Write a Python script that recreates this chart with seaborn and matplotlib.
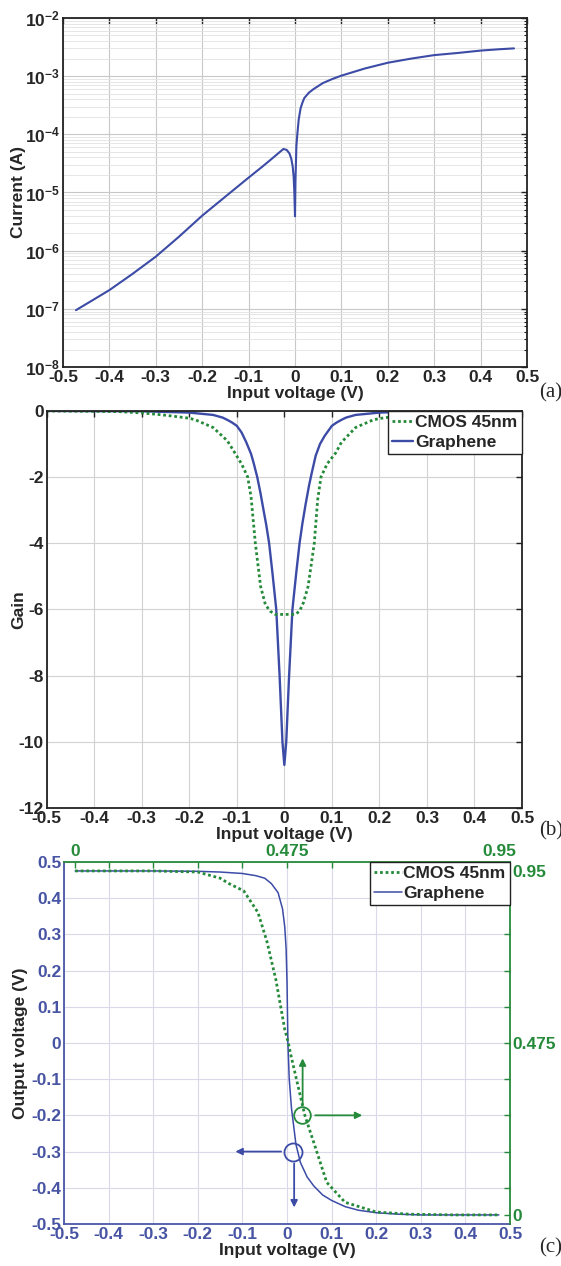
import numpy as np
import matplotlib
matplotlib.use('Agg')
import matplotlib.pyplot as plt
from matplotlib.ticker import LogLocator, FixedLocator, NullFormatter
import seaborn as sns
import pandas as pd

# (a) drain current vs input voltage (log scale)
vin_a = [-0.472, -0.44, -0.4, -0.35, -0.3, -0.25, -0.2, -0.15, -0.1, -0.07, -0.05, -0.035,
         -0.025, -0.018, -0.012, -0.008, -0.005, -0.003, -0.0015, 0.0, 0.001, 0.003, 0.005,
         0.008, 0.012, 0.016, 0.02, 0.03, 0.04, 0.06, 0.08, 0.1, 0.15, 0.2, 0.25, 0.3, 0.35,
         0.4, 0.44, 0.472]
current_a = [9.5e-8, 1.35e-7, 2.1e-7, 4.0e-7, 7.9e-7, 1.74e-6, 4.0e-6, 8.5e-6, 1.8e-5, 2.8e-5,
             3.8e-5, 4.8e-5, 5.6e-5, 5.4e-5, 4.7e-5, 3.8e-5, 2.8e-5, 1.9e-5, 1.05e-5, 3.9e-6,
             1.6e-5, 6.3e-5, 1.0e-4, 1.8e-4, 2.8e-4, 3.5e-4, 4.2e-4, 5.2e-4, 6.0e-4, 7.6e-4,
             8.9e-4, 1.02e-3, 1.35e-3, 1.7e-3, 2.0e-3, 2.3e-3, 2.5e-3, 2.75e-3, 2.9e-3, 3.0e-3]

# (b) gain
vin_b_cmos = [-0.5, -0.35, -0.3, -0.27, -0.25, -0.2, -0.187, -0.15, -0.12, -0.104, -0.09,
              -0.077, -0.07, -0.061, -0.05, -0.04, -0.03, -0.019, -0.01, 0.0, 0.01, 0.023,
              0.032, 0.04, 0.05, 0.063, 0.07, 0.077, 0.09, 0.108, 0.12, 0.15, 0.187, 0.2,
              0.255, 0.3, 0.35, 0.5]
gain_cmos = [0.0, -0.02, -0.06, -0.1, -0.13, -0.22, -0.27, -0.5, -0.9, -1.27, -1.6,
             -2.0, -2.6, -4.0, -5.3, -5.85, -6.05, -6.15, -6.15, -6.15, -6.15, -6.15,
             -6.05, -5.8, -5.3, -4.0, -2.7, -2.0, -1.6, -1.27, -0.95, -0.5, -0.27, -0.23,
             -0.12, -0.05, -0.02, 0.0]
vin_b_gr = [-0.5, -0.3, -0.2, -0.15, -0.13, -0.12, -0.11, -0.1, -0.09, -0.08, -0.07, -0.065,
            -0.057, -0.05, -0.045, -0.038, -0.032, -0.025, -0.017, -0.01, -0.004, 0.0, 0.004,
            0.01, 0.017, 0.025, 0.032, 0.038, 0.045, 0.052, 0.058, 0.066, 0.075, 0.085, 0.1,
            0.11, 0.12, 0.13, 0.15, 0.2, 0.3, 0.5]
gain_gr = [0.0, -0.01, -0.05, -0.12, -0.2, -0.27, -0.35, -0.45, -0.65, -0.95, -1.3, -1.55,
           -2.0, -2.5, -2.9, -3.45, -4.0, -4.9, -6.0, -8.0, -10.0, -10.7, -10.0, -8.0, -6.0,
           -4.9, -4.0, -3.4, -2.8, -2.25, -1.85, -1.35, -1.0, -0.75, -0.45, -0.35, -0.27, -0.2,
           -0.12, -0.05, -0.01, 0.0]

# (c) transfer curves; CMOS on its own 0..0.95 V axes (top/right)
vin_c_gr = [-0.475, -0.3, -0.2, -0.15, -0.1, -0.07, -0.05, -0.035, -0.02, -0.01, -0.005,
            -0.002, 0.0, 0.002, 0.005, 0.01, 0.02, 0.03, 0.045, 0.06, 0.08, 0.1, 0.13, 0.16,
            0.2, 0.25, 0.3, 0.475]
vout_c_gr = [0.475, 0.475, 0.474, 0.472, 0.468, 0.462, 0.455, 0.44, 0.415, 0.37, 0.32, 0.26,
             0.17, 0.0, -0.1, -0.18, -0.28, -0.33, -0.37, -0.395, -0.42, -0.435, -0.452,
             -0.462, -0.469, -0.473, -0.475, -0.475]
vin_c_cmos = [0.0, 0.175, 0.275, 0.325, 0.345, 0.378, 0.41, 0.43, 0.45, 0.47, 0.478, 0.483,
              0.498, 0.515, 0.539, 0.564, 0.605, 0.675, 0.75, 0.85, 0.95]
vout_c_cmos = [0.95, 0.95, 0.947, 0.93, 0.915, 0.895, 0.835, 0.755, 0.65, 0.512, 0.475, 0.445,
               0.365, 0.275, 0.185, 0.09, 0.035, 0.008, 0.002, 0.0, 0.0]

xticks = [-0.5, -0.4, -0.3, -0.2, -0.1, 0, 0.1, 0.2, 0.3, 0.4, 0.5]
xtick_labels = ['-0.5', '-0.4', '-0.3', '-0.2', '-0.1', '0', '0.1', '0.2', '0.3', '0.4', '0.5']
yticks_a = [1e-8, 1e-7, 1e-6, 1e-5, 1e-4, 1e-3, 1e-2]
ytick_labels_a = [r'$\mathbf{10^{-8}}$', r'$\mathbf{10^{-7}}$', r'$\mathbf{10^{-6}}$',
                  r'$\mathbf{10^{-5}}$', r'$\mathbf{10^{-4}}$', r'$\mathbf{10^{-3}}$',
                  r'$\mathbf{10^{-2}}$']
yticks_b = [-12, -10, -8, -6, -4, -2, 0]
ytick_labels_b = ['-12', '-10', '-8', '-6', '-4', '-2', '0']
yticks_c = [-0.5, -0.4, -0.3, -0.2, -0.1, 0, 0.1, 0.2, 0.3, 0.4, 0.5]
ytick_labels_c = ['-0.5', '-0.4', '-0.3', '-0.2', '-0.1', '0', '0.1', '0.2', '0.3', '0.4', '0.5']
cmos_ticks = [0, 0.475, 0.95]
cmos_tick_labels = ['0', '0.475', '0.95']
cmos_minor = [0.075, 0.175, 0.275, 0.375, 0.575, 0.675, 0.775, 0.875]

sns.set_style('white')
plt.rcParams['font.family'] = ['Liberation Sans', 'DejaVu Sans']
plt.rcParams['font.weight'] = 'bold'
plt.rcParams['axes.labelweight'] = 'bold'
plt.rcParams['mathtext.fontset'] = 'custom'
plt.rcParams['mathtext.bf'] = 'Liberation Sans:bold'
plt.rcParams['mathtext.rm'] = 'Liberation Sans:bold'

BLUE = '#3c4ba6'
GREEN = '#258a3a'
TBLUE = '#4753a3'
FS = 12.5

fig = plt.figure(figsize=(5.61, 12.66), dpi=100)
ax1 = fig.add_axes([0.1123, 0.7101, 0.8271, 0.2757])
ax2 = fig.add_axes([0.0832, 0.3618, 0.8473, 0.3136])
ax3 = fig.add_axes([0.1141, 0.0332, 0.7950, 0.2860])


def style_ax(ax, grid_color, spine_color='#222222'):
    ax.tick_params(which='major', direction='in', length=4, width=1, top=True, right=True,
                   labelsize=FS, pad=2, color=spine_color)
    ax.tick_params(which='minor', direction='in', length=2, width=0.8, top=True, right=True,
                   color=spine_color)
    ax.grid(True, which='major', color=grid_color, lw=0.8)
    for s in ax.spines.values():
        s.set_linewidth(1.3)
        s.set_color(spine_color)
        s.set_visible(True)
    ax.set_axisbelow(True)


# ---- (a)
df_a = pd.DataFrame({'vin': vin_a, 'current': current_a})
sns.lineplot(data=df_a, x='vin', y='current', ax=ax1, color=BLUE, lw=1.5,
             sort=False, estimator=None)
ax1.set_yscale('log')
ax1.set_xlim(-0.5, 0.5)
ax1.set_ylim(1e-8, 1e-2)
style_ax(ax1, '#c8c8c8')
ax1.yaxis.set_minor_locator(LogLocator(base=10, subs=np.arange(2, 10)))
ax1.yaxis.set_minor_formatter(NullFormatter())
ax1.grid(True, which='minor', axis='y', color='#e2e2e2', lw=0.6)
ax1.set_xticks(xticks)
ax1.set_xticklabels(xtick_labels)
ax1.set_yticks(yticks_a)
ax1.set_yticklabels(ytick_labels_a)
ax1.set_xlabel('Input voltage (V)', fontsize=FS, labelpad=1)
ax1.set_ylabel('Current (A)', fontsize=FS)
ax1.yaxis.set_label_coords(-0.08, 0.5)

# ---- (b)
df_b_cmos = pd.DataFrame({'vin': vin_b_cmos, 'gain': gain_cmos})
df_b_gr = pd.DataFrame({'vin': vin_b_gr, 'gain': gain_gr})
sns.lineplot(data=df_b_gr, x='vin', y='gain', ax=ax2, color=BLUE, lw=1.7,
             sort=False, estimator=None, label='Graphene')
sns.lineplot(data=df_b_cmos, x='vin', y='gain', ax=ax2, color=GREEN, lw=2.0,
             linestyle=(0, (1, 1)), sort=False, estimator=None, label='CMOS 45nm')
ax2.set_xlim(-0.5, 0.5)
ax2.set_ylim(-12, 0)
style_ax(ax2, '#d2d2d2')
ax2.set_xticks(xticks)
ax2.set_xticklabels(xtick_labels)
ax2.set_yticks(yticks_b)
ax2.set_yticklabels(ytick_labels_b)
ax2.set_xlabel('Input voltage (V)', fontsize=FS, labelpad=1)
ax2.set_ylabel('Gain', fontsize=FS)
ax2.yaxis.set_label_coords(-0.044, 0.5)
h, l = ax2.get_legend_handles_labels()
leg = ax2.legend(h[::-1], l[::-1], loc='upper right', borderaxespad=0, fontsize=FS,
                 handlelength=1.2, handletextpad=0.15, borderpad=0.25, labelspacing=0.25,
                 fancybox=False, framealpha=1, edgecolor='#222222')
leg.get_frame().set_linewidth(1.0)

# ---- (c)
df_c_gr = pd.DataFrame({'vin': vin_c_gr, 'vout': vout_c_gr})
df_c_cmos = pd.DataFrame({'vin': vin_c_cmos, 'vout': vout_c_cmos})
sns.lineplot(data=df_c_gr, x='vin', y='vout', ax=ax3, color=BLUE, lw=1.1,
             sort=False, estimator=None, label='Graphene')
ax3.set_xlim(-0.5, 0.5)
ax3.set_ylim(-0.5, 0.5)
style_ax(ax3, '#d9d9ea', spine_color='#4b57a8')
ax3.tick_params(top=False, right=False, labelcolor=TBLUE)
ax3.spines['top'].set_visible(False)
ax3.spines['right'].set_visible(False)
ax3.set_xticks(xticks)
ax3.set_xticklabels(xtick_labels)
ax3.set_yticks(yticks_c)
ax3.set_yticklabels(ytick_labels_c)
ax3.set_xlabel('Input voltage (V)', fontsize=FS, labelpad=1)
ax3.set_ylabel('Output voltage (V)', fontsize=FS)
ax3.yaxis.set_label_coords(-0.081, 0.5)

ax3g = fig.add_axes(ax3.get_position(), facecolor='none')
sns.lineplot(data=df_c_cmos, x='vin', y='vout', ax=ax3g, color=GREEN, lw=2.0,
             linestyle=(0, (1, 1)), sort=False, estimator=None, label='CMOS 45nm')
ax3g.set_xlim(-0.025, 0.975)
ax3g.set_ylim(-0.025, 0.975)
ax3g.xaxis.tick_top()
ax3g.yaxis.tick_right()
ax3g.set_xlabel('')
ax3g.set_ylabel('')
ax3g.set_xticks(cmos_ticks)
ax3g.set_xticklabels(cmos_tick_labels)
ax3g.set_yticks(cmos_ticks)
ax3g.set_yticklabels(cmos_tick_labels)
ax3g.xaxis.set_minor_locator(FixedLocator(cmos_minor))
ax3g.yaxis.set_minor_locator(FixedLocator(cmos_minor))
ax3g.tick_params(which='both', direction='in', color=GREEN, labelcolor=GREEN, width=1,
                 labelsize=FS, pad=2)
ax3g.tick_params(which='major', length=4)
ax3g.tick_params(which='minor', length=4)
ax3g.spines['left'].set_visible(False)
ax3g.spines['bottom'].set_visible(False)
for s in ['top', 'right']:
    ax3g.spines[s].set_color(GREEN)
    ax3g.spines[s].set_linewidth(1.3)
ax3g.grid(False)

h1, l1 = ax3g.get_legend_handles_labels()
h2, l2 = ax3.get_legend_handles_labels()
ax3.get_legend().remove()
leg3 = ax3g.legend(h1 + h2, l1 + l2, loc='upper right', borderaxespad=0, fontsize=FS,
                   handlelength=1.6, handletextpad=0.1, borderpad=0.25, labelspacing=0.25,
                   fancybox=False, framealpha=1, edgecolor='#222222')
leg3.get_frame().set_linewidth(1.0)

# circles + arrows indicating which axes each curve belongs to
ax3.plot([0.014], [-0.3], marker='o', ms=13, mfc='none', mec=BLUE, mew=1.3)
ax3.plot([0.033], [-0.2], marker='o', ms=12, mfc='none', mec=GREEN, mew=1.3)
arrow_b = dict(arrowstyle='-|>', color=BLUE, lw=1.3, mutation_scale=10)
arrow_g = dict(arrowstyle='-|>', color=GREEN, lw=1.3, mutation_scale=10)
ax3.annotate('', xy=(-0.122, -0.3), xytext=(-0.007, -0.3), arrowprops=arrow_b)
ax3.annotate('', xy=(0.016, -0.462), xytext=(0.016, -0.325), arrowprops=arrow_b)
ax3.annotate('', xy=(0.035, -0.035), xytext=(0.035, -0.178), arrowprops=arrow_g)
ax3.annotate('', xy=(0.175, -0.2), xytext=(0.057, -0.2), arrowprops=arrow_g)

for lab, y in [('(a)', 0.6896), ('(b)', 0.344), ('(c)', 0.014)]:
    fig.text(0.982, y, lab, ha='center', va='center', fontsize=15,
             family=['Liberation Serif', 'DejaVu Serif'], weight='normal')

fig.savefig('out.png', dpi=100)
plt.close()
